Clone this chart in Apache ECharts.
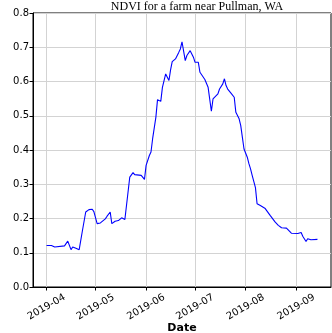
<!DOCTYPE html>
<html>
<head>
<meta charset="utf-8">
<script src="https://cdn.jsdelivr.net/npm/echarts@6/dist/echarts.min.js"></script>
<style>
  html, body { margin: 0; padding: 0; background: #fff; }
  #main { width: 332px; height: 333px; }
</style>
</head>
<body>
<div id="main"></div>
<script>
const dates = [
  '2019-04-01', '2019-04-04', '2019-04-06', '2019-04-12', '2019-04-14', '2019-04-16', '2019-04-17',
  '2019-04-19', '2019-04-21', '2019-04-23', '2019-04-25', '2019-04-27', '2019-04-29', '2019-04-30',
  '2019-05-02', '2019-05-04', '2019-05-07', '2019-05-08', '2019-05-10', '2019-05-11', '2019-05-13',
  '2019-05-15', '2019-05-17', '2019-05-19', '2019-05-22', '2019-05-24', '2019-05-25', '2019-05-29',
  '2019-05-31', '2019-06-01', '2019-06-03', '2019-06-04', '2019-06-05', '2019-06-07', '2019-06-08',
  '2019-06-09', '2019-06-10', '2019-06-11', '2019-06-13', '2019-06-15', '2019-06-16', '2019-06-17',
  '2019-06-19', '2019-06-21', '2019-06-22', '2019-06-23', '2019-06-25', '2019-06-26', '2019-06-28',
  '2019-06-30', '2019-07-01', '2019-07-03', '2019-07-04', '2019-07-05', '2019-07-07', '2019-07-08',
  '2019-07-09', '2019-07-11', '2019-07-12', '2019-07-15', '2019-07-16', '2019-07-17', '2019-07-18',
  '2019-07-19', '2019-07-20', '2019-07-21', '2019-07-23', '2019-07-24', '2019-07-25', '2019-07-26',
  '2019-07-28', '2019-07-29', '2019-07-30', '2019-07-31', '2019-08-02', '2019-08-03', '2019-08-04',
  '2019-08-05', '2019-08-06', '2019-08-07', '2019-08-08', '2019-08-10', '2019-08-13', '2019-08-16',
  '2019-08-17', '2019-08-19', '2019-08-21', '2019-08-23', '2019-08-26', '2019-08-27', '2019-08-29',
  '2019-09-02', '2019-09-04', '2019-09-05', '2019-09-07', '2019-09-08', '2019-09-10', '2019-09-14'
];
const ndvi = [
  0.121, 0.121, 0.117, 0.120, 0.134, 0.109, 0.117,
  0.113, 0.109, 0.165, 0.219, 0.226, 0.227, 0.220,
  0.185, 0.187, 0.199, 0.206, 0.219, 0.185, 0.192,
  0.194, 0.202, 0.197, 0.321, 0.334, 0.328, 0.326,
  0.314, 0.355, 0.384, 0.394, 0.433, 0.496, 0.547,
  0.549, 0.542, 0.583, 0.622, 0.603, 0.634, 0.658,
  0.666, 0.685, 0.695, 0.716, 0.661, 0.676, 0.690,
  0.671, 0.656, 0.656, 0.627, 0.632, 0.606, 0.605,
  0.583, 0.513, 0.549, 0.564, 0.578, 0.573, 0.593,
  0.608, 0.588, 0.578, 0.566, 0.571, 0.554, 0.510,
  0.491, 0.471, 0.437, 0.403, 0.379, 0.360, 0.345,
  0.326, 0.326, 0.290, 0.243, 0.238, 0.229, 0.209,
  0.206, 0.190, 0.180, 0.173, 0.172, 0.175, 0.157,
  0.156, 0.159, 0.148, 0.133, 0.141, 0.138, 0.139
];
// month ticks on the x axis
const monthTicks = ['2019-04', '2019-05', '2019-06', '2019-07', '2019-08', '2019-09'];

// dates -> ms timestamps (UTC)
const toMs = s => { const p = s.split('-'); return Date.UTC(+p[0], +p[1] - 1, p[2] ? +p[2] : 1); };
const t0 = toMs(dates[0]);
const t1 = toMs(dates[dates.length - 1]);
const pad = (t1 - t0) * 0.05;
const tickTimes = monthTicks.map(toMs);

const chart = echarts.init(document.getElementById('main'));
const txt = '#000';
const gridColor = '#d3d3d3';
chart.setOption({
  animation: false,
  title: {
    text: 'NDVI for a farm near Pullman, WA',
    left: 197, top: 1, padding: 0, textAlign: 'center',
    textStyle: { fontFamily: 'Liberation Serif', fontSize: 12, fontWeight: 'normal', color: txt }
  },
  grid: {
    left: 33, right: 1, top: 13, bottom: 46,
    outerBoundsMode: 'none',
    show: true, borderColor: '#000', borderWidth: 1, backgroundColor: 'transparent'
  },
  xAxis: {
    type: 'value',
    min: t0 - pad, max: t1 + pad,
    name: 'Date', nameLocation: 'middle', nameGap: 36, nameMoveOverlap: false,
    nameTextStyle: { fontFamily: 'DejaVu Sans', fontSize: 11, fontWeight: 'bold', color: txt },
    axisLine: { show: true, onZero: false, lineStyle: { color: '#000', width: 1 } },
    axisTick: { show: true, length: 3.5, customValues: tickTimes, lineStyle: { color: '#000' } },
    axisLabel: {
      customValues: tickTimes, rotate: 30, margin: 20,
      align: 'center', verticalAlign: 'middle',
      fontFamily: 'DejaVu Sans', fontSize: 10, color: txt,
      formatter: v => { const d = new Date(v); return d.getUTCFullYear() + '-' + String(d.getUTCMonth() + 1).padStart(2, '0'); }
    },
    splitLine: { show: false }
  },
  yAxis: {
    type: 'value', min: 0, max: 0.8, interval: 0.1,
    name: 'NDVI', nameLocation: 'middle', nameGap: 33, nameMoveOverlap: false,
    nameTextStyle: { fontFamily: 'DejaVu Sans', fontSize: 11, fontWeight: 'bold', color: txt },
    axisLine: { show: true, lineStyle: { color: '#000', width: 1 } },
    axisTick: { show: true, length: 3.5, lineStyle: { color: '#000' } },
    axisLabel: {
      margin: 4, fontFamily: 'DejaVu Sans', fontSize: 10, color: txt,
      formatter: v => v.toFixed(1)
    },
    splitLine: { show: true, lineStyle: { color: gridColor, width: 1 } }
  },
  series: [{
    type: 'line',
    data: dates.map((d, i) => [toMs(d), ndvi[i]]),
    showSymbol: false,
    lineStyle: { color: '#0000ff', width: 1.1 },
    itemStyle: { color: '#0000ff' },
    z: 3,
    // vertical grid lines at the month ticks
    markLine: {
      silent: true, symbol: 'none', animation: false, z: 1,
      label: { show: false },
      lineStyle: { color: gridColor, width: 1, type: 'solid' },
      emphasis: { disabled: true },
      data: tickTimes.map(t => ({ xAxis: t }))
    }
  }]
});
</script>
</body>
</html>
